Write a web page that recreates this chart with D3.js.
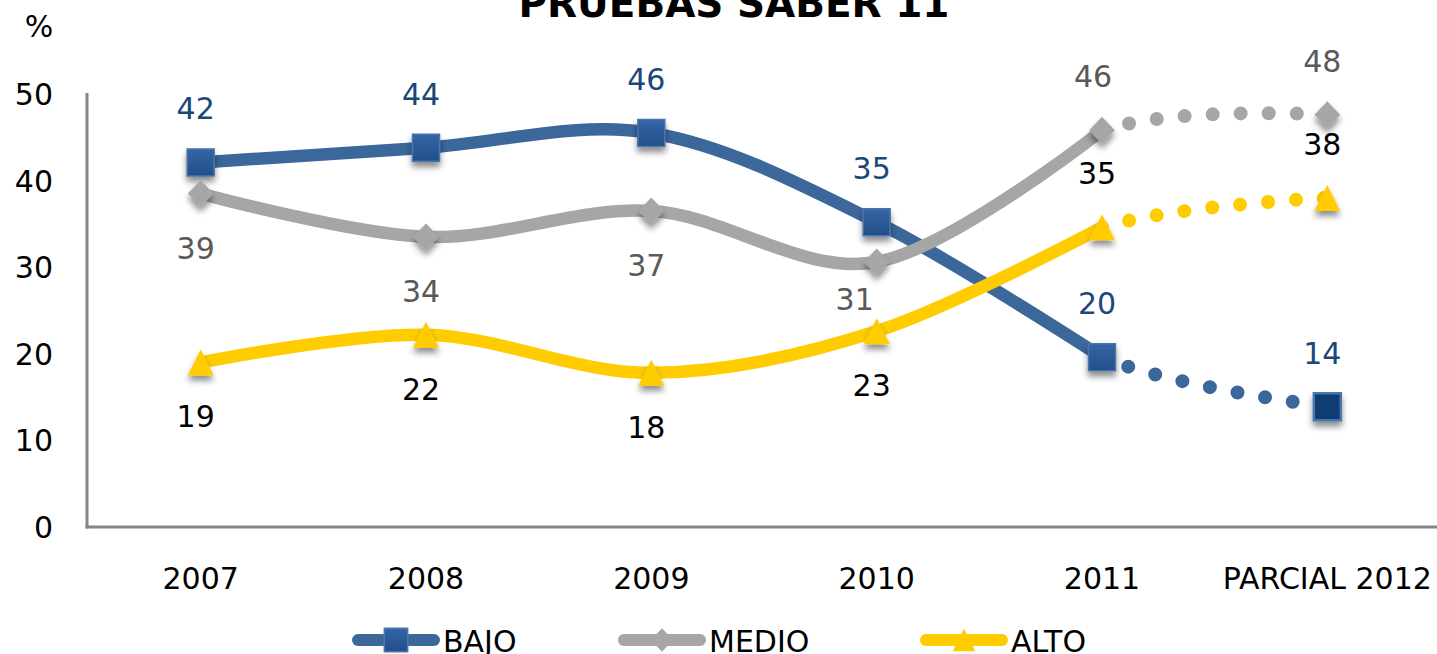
<!DOCTYPE html>
<html>
<head>
<meta charset="utf-8">
<style>
  html, body { margin: 0; padding: 0; background: #fff; overflow: hidden; }
  svg { display: block; }
  text { font-family: "DejaVu Sans", Verdana, sans-serif; }
  .tick-label { font-size: 30px; fill: #000; }
  .val { font-size: 30px; }
  .title { font-size: 39px; font-weight: bold; fill: #000; }
</style>
</head>
<body>
<script src="https://cdn.jsdelivr.net/npm/d3@7"></script>
<script>
  // data
  const categories = ['2007', '2008', '2009', '2010', '2011', 'PARCIAL 2012'];
  const bajo  = [42.1, 43.8, 45.5, 35.2, 19.6, 13.9];
  const medio = [38.5, 33.5, 36.5, 30.6, 45.8, 47.6];
  const alto  = [19.0, 22.2, 17.8, 22.6, 34.6, 38.0];
  const yTicks = [0, 10, 20, 30, 40, 50];
  const seriesNames = ['BAJO', 'MEDIO', 'ALTO'];

  const W = 1437, H = 654;
  const plotL = 88, plotR = 1440, plotT = 94, plotB = 527;

  const svg = d3.select('body').append('svg')
    .attr('width', W).attr('height', H);

  const defs = svg.append('defs');
  const shadow = defs.append('filter').attr('id', 'shadow')
    .attr('x', '-50%').attr('y', '-50%').attr('width', '200%').attr('height', '200%');
  shadow.append('feDropShadow')
    .attr('dx', 0).attr('dy', 5).attr('stdDeviation', 3)
    .attr('flood-color', '#000').attr('flood-opacity', 0.45);

  const grad = defs.append('linearGradient').attr('id', 'sq')
    .attr('x1', 0).attr('y1', 0).attr('x2', 0).attr('y2', 1);
  grad.append('stop').attr('offset', 0).attr('stop-color', '#3366a6');
  grad.append('stop').attr('offset', 1).attr('stop-color', '#234f8a');

  const x = d3.scalePoint().domain(categories).range([plotL, plotR]).padding(0.5);
  const y = d3.scaleLinear().domain([0, 50]).range([plotB, plotT]);

  // title (cut at the top edge, as in the original)
  svg.append('text').attr('class', 'title')
    .attr('x', 734).attr('y', 17).attr('text-anchor', 'middle')
    .text('PRUEBAS SABER 11');

  svg.append('text').attr('class', 'tick-label')
    .attr('x', 39).attr('y', 37).attr('text-anchor', 'middle').text('%');

  // axes
  svg.append('line').attr('x1', plotL - 1).attr('x2', plotL - 1)
    .attr('y1', plotT - 1).attr('y2', plotB + 1.5)
    .attr('stroke', '#868686').attr('stroke-width', 3);
  svg.append('line').attr('x1', plotL - 2.5).attr('x2', W)
    .attr('y1', plotB).attr('y2', plotB)
    .attr('stroke', '#868686').attr('stroke-width', 3);

  svg.append('g').selectAll('text').data(yTicks).join('text')
    .attr('class', 'tick-label')
    .attr('x', 53).attr('y', d => y(d) + 11)
    .attr('text-anchor', 'end')
    .text(d => d);

  svg.append('g').selectAll('text').data(categories).join('text')
    .attr('class', 'tick-label')
    .attr('x', d => x(d)).attr('y', 589)
    .attr('text-anchor', 'middle')
    .text(d => d);

  // excel style markers
  const diamond = {
    draw(ctx, size) {
      const r = Math.sqrt(size) / 2;
      ctx.moveTo(0, -r); ctx.lineTo(r * 0.95, 0); ctx.lineTo(0, r); ctx.lineTo(-r * 0.95, 0); ctx.closePath();
    }
  };
  const triangle = {
    draw(ctx, size) {
      const r = Math.sqrt(size) / 2;
      ctx.moveTo(0, -r); ctx.lineTo(r, r); ctx.lineTo(-r, r); ctx.closePath();
    }
  };

  const series = [
    {name: seriesNames[0], values: bajo, color: '#3c679b', label: '#1b4778',
     symbol: d3.symbolSquare, size: 27 * 27, fill: 'url(#sq)', stroke: '#4a76ab',
     below: i => false},
    {name: seriesNames[1], values: medio, color: '#a6a6a6', label: '#595959',
     symbol: diamond, size: 27 * 27, fill: '#a6a6a6', stroke: 'none',
     below: i => i < 4},
    {name: seriesNames[2], values: alto, color: '#ffcc00', label: '#000',
     symbol: triangle, size: 26 * 26, fill: '#ffcc00', stroke: 'none',
     below: i => i < 4},
  ];

  // one label was dragged by hand in the original
  const nudge = {'MEDIO-3': [-17, -17]};

  const curve = d3.curveCardinal.tension(0);
  const line = d3.line().x(d => x(d.c)).y(d => y(d.v)).curve(curve);

  const last = categories.length - 1;
  defs.append('clipPath').attr('id', 'proj')
    .append('rect')
    .attr('x', x(categories[last - 1])).attr('y', 0)
    .attr('width', W).attr('height', H);

  const plot = svg.append('g');

  series.forEach(s => {
    const pts = s.values.map((v, i) => ({c: categories[i], v, i}));
    const g = plot.append('g');

    // solid part (actual years)
    g.append('path')
      .attr('d', line(pts.slice(0, last)))
      .attr('fill', 'none').attr('stroke', s.color)
      .attr('stroke-width', 12.5).attr('stroke-linejoin', 'round');

    // dotted projection: last spline segment
    const seg = pts.slice(last - 2);
    const p = g.append('path')
      .attr('d', line(seg))
      .attr('fill', 'none').attr('stroke', s.color)
      .attr('stroke-width', 14).attr('stroke-linecap', 'round')
      .attr('clip-path', 'url(#proj)');
    // phase the dots so they start at the 2011 point
    const node = p.node();
    const total = node.getTotalLength();
    let lo = 0, hi = total;
    const target = x(categories[last - 1]);
    for (let k = 0; k < 40; k++) {
      const mid = (lo + hi) / 2;
      if (node.getPointAtLength(mid).x < target) lo = mid; else hi = mid;
    }
    const gap = 28;
    p.attr('stroke-dasharray', `0 ${gap}`)
      .attr('stroke-dashoffset', -(lo % gap));

    // markers
    g.selectAll('path.mk').data(pts).join('path')
      .attr('class', 'mk')
      .attr('transform', d => `translate(${x(d.c)},${y(d.v)})`)
      .attr('d', d3.symbol(s.symbol, s.size)())
      .attr('fill', d => (s.name === 'BAJO' && d.i === last) ? '#0b3d73' : s.fill)
      .attr('stroke', s.stroke)
      .attr('stroke-width', d => (s.name === 'BAJO' && d.i === last) ? 2.5 : 1.5)
      .attr('filter', 'url(#shadow)');

    s.pts = pts;
  });

  // value labels on top of everything
  series.forEach(s => {
    plot.append('g').selectAll('text').data(s.pts).join('text')
      .attr('class', 'val')
      .attr('fill', s.label)
      .attr('text-anchor', 'middle')
      .attr('x', d => {
        const n = nudge[`${s.name}-${d.i}`];
        const dx = (s.name === 'MEDIO' && d.i === last - 1) ? -9 : -5;
        return x(d.c) + dx + (n ? n[0] : 0);
      })
      .attr('y', d => {
        const n = nudge[`${s.name}-${d.i}`];
        const base = s.below(d.i) ? y(d.v) + 65 : y(d.v) - 43;
        return base + (n ? n[1] : 0);
      })
      .text(d => Math.round(d.v));
  });

  // legend
  const legendX = [352, 618, 920];
  const legend = svg.append('g');
  series.forEach((s, i) => {
    const x0 = legendX[i], x1 = x0 + 88, cy = 640;
    const g = legend.append('g');
    g.append('line').attr('x1', x0 + 6).attr('x2', x1 - 6)
      .attr('y1', cy).attr('y2', cy)
      .attr('stroke', s.color).attr('stroke-width', 12)
      .attr('stroke-linecap', 'round');
    g.append('path')
      .attr('transform', `translate(${(x0 + x1) / 2},${cy})`)
      .attr('d', d3.symbol(s.symbol, s.size * 0.75)())
      .attr('fill', s.fill).attr('stroke', s.stroke).attr('stroke-width', 1.5);
    g.append('text').attr('class', 'tick-label')
      .attr('x', x1 + 3).attr('y', 652)
      .text(s.name);
  });
</script>
</body>
</html>
